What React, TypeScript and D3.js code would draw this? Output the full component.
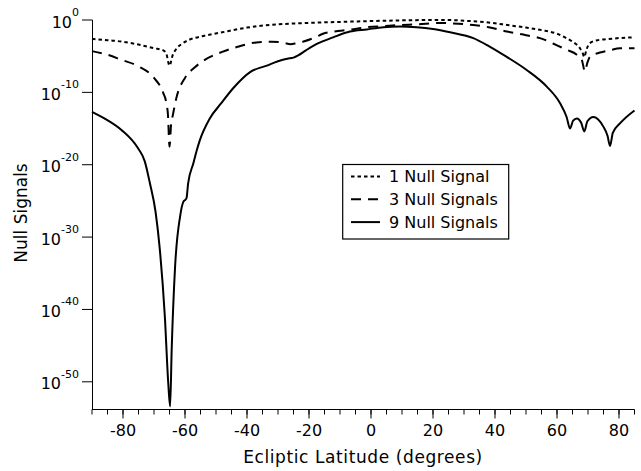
import React from "react";
import * as d3 from "d3";

// Ecliptic latitude (degrees) and log10 of the null signal for each configuration
const lat1 = [-90, -85, -80, -75, -70, -67, -66, -65, -64, -63, -61, -59, -55, -48, -40, -37.5, -30, -20, -7, 0, 10, 20, 25, 30, 40, 44, 50, 55, 60, 63, 65, 67.4, 68.3, 68.8, 69.5, 70.6, 73, 76, 80, 85];
const exp1 = [-2.6, -2.8, -3.0, -3.4, -3.9, -4.2, -4.7, -6.3, -4.9, -4.1, -3.3, -2.8, -2.3, -1.7, -1.05, -0.9, -0.6, -0.4, -0.23, -0.15, -0.05, 0, 0, -0.1, -0.45, -0.7, -1.05, -1.4, -1.9, -2.5, -3.0, -3.9, -4.6, -5.1, -4.1, -3.2, -2.8, -2.65, -2.5, -2.4];

const lat3 = [-90, -85, -80.5, -75, -70, -67, -66, -65.5, -65, -64.5, -63.9, -62.8, -60, -57, -53.6, -48, -43, -37, -32, -28, -26, -24, -22, -18, -15.5, -12, -7, -1.4, 4, 9.4, 15, 22, 25.5, 33, 38, 43.8, 50, 54.5, 60, 63, 66.4, 68, 69, 69.8, 70.6, 73.9, 77, 80.3, 85];
const exp3 = [-4.3, -4.8, -5.5, -6.4, -8.0, -10.1, -11.5, -13.1, -17.5, -14.5, -13.1, -10.8, -8.0, -6.6, -5.5, -4.4, -3.7, -3.1, -3.0, -3.15, -3.35, -3.2, -3.0, -2.4, -1.9, -1.6, -1.35, -1.0, -0.85, -0.7, -0.6, -0.4, -0.45, -0.7, -1.0, -1.6, -2.1, -2.5, -3.5, -4.1, -4.8, -5.5, -7.1, -5.9, -5.1, -4.5, -4.2, -3.9, -3.9];

const lat9 = [-90, -86, -80.5, -75.2, -73, -71.3, -69.5, -68.1, -66.5, -65.4, -64.8, -64.3, -63.2, -61.6, -60.5, -60, -59.5, -59, -57.3, -56.2, -55.2, -52, -48.3, -44.4, -39, -33.6, -30, -27, -25, -23.5, -21, -17.5, -12.2, -6.8, -1.4, 4, 9.4, 14.7, 20, 25.5, 33, 38, 43.8, 50.2, 56.7, 61, 63.1, 64.2, 65.2, 66.4, 67.8, 68.8, 69.8, 71.7, 74.9, 76.3, 77.1, 78, 80.3, 85];
const exp9 = [-12.7, -13.6, -15.2, -17.7, -19.5, -22.6, -26.5, -31.8, -41, -50.2, -53.4, -45.6, -34.1, -27.2, -25.1, -24.9, -24.6, -22.6, -19.8, -18, -16.6, -13.6, -11.5, -9.4, -7.2, -6.3, -5.7, -5.35, -5.2, -4.9, -4.2, -3.3, -2.4, -1.6, -1.3, -1.0, -0.9, -1.0, -1.25, -1.7, -2.5, -3.6, -5.1, -6.9, -9.2, -11.5, -13.4, -15.0, -13.9, -13.6, -14.2, -15.4, -14.0, -13.4, -14.7, -16.0, -17.4, -15.6, -14.3, -12.5];

const seriesNames = ["1 Null Signal", "3 Null Signals", "9 Null Signals"];
const seriesDash = ["3.5,3", "10,7", ""];

const xTicks = [-80, -60, -40, -20, 0, 20, 40, 60, 80];
const xMinorTicks = d3.range(-90, 86, 5);
const yTickExps = [0, -10, -20, -30, -40, -50];

const xLabel = "Ecliptic Latitude (degrees)";
const yLabel = "Null Signals";

const FONT = "'DejaVu Sans', sans-serif";

export default function App() {
  const x = d3.scaleLinear().domain([-90, 85]).range([92, 634.5]);
  const y = d3.scaleLog().domain([Math.pow(10, -53.8), 1]).range([409.3, 20]);

  const series = [
    lat1.map((d, i) => [d, Math.pow(10, exp1[i])] as [number, number]),
    lat3.map((d, i) => [d, Math.pow(10, exp3[i])] as [number, number]),
    lat9.map((d, i) => [d, Math.pow(10, exp9[i])] as [number, number]),
  ];

  const line = d3
    .line<[number, number]>()
    .x((d) => x(d[0]))
    .y((d) => y(d[1]))
    .curve(d3.curveMonotoneX);

  const x0 = 92.5;
  const yBase = 409.5;

  return (
    <svg
      width={641}
      height={471}
      style={{ position: "absolute", left: 0, top: 0, background: "#fff" }}
      fontFamily={FONT}
    >
      <rect width={641} height={471} fill="#fff" />
      {/* curves */}
      {series.map((s, i) => (
        <path
          key={i}
          d={line(s) || ""}
          fill="none"
          stroke="#000"
          strokeWidth={2}
          strokeDasharray={seriesDash[i] || undefined}
          strokeLinejoin="round"
        />
      ))}

      {/* left axis */}
      <line x1={x0} x2={x0} y1={20} y2={yBase} stroke="#000" strokeWidth={1} />
      {yTickExps.map((e) => {
        const ty = y(Math.pow(10, e));
        return (
          <g key={e}>
            <line x1={82} x2={x0} y1={ty} y2={ty} stroke="#000" strokeWidth={1} />
            <text x={79} y={ty + 7.5} textAnchor="end" fontSize={16} fill="#000">
              <tspan>10</tspan>
              <tspan dy={-11.5} fontSize={11}>{String(e)}</tspan>
            </text>
          </g>
        );
      })}

      {/* bottom axis */}
      <line x1={92} x2={634.5} y1={yBase} y2={yBase} stroke="#000" strokeWidth={1} />
      {xMinorTicks.map((t) => (
        <line key={"m" + t} x1={x(t)} x2={x(t)} y1={yBase} y2={yBase + 5} stroke="#000" strokeWidth={1} />
      ))}
      {xTicks.map((t) => (
        <g key={t}>
          <line x1={x(t)} x2={x(t)} y1={yBase} y2={yBase + 9} stroke="#000" strokeWidth={1} />
          <text x={x(t)} y={436} textAnchor="middle" fontSize={16} fill="#000">
            {String(t)}
          </text>
        </g>
      ))}

      {/* axis titles */}
      <text x={363} y={463} textAnchor="middle" fontSize={17} letterSpacing={0.6} fill="#000">
        {xLabel}
      </text>
      <text
        transform="translate(26.5,213) rotate(-90)"
        textAnchor="middle"
        fontSize={17}
        fill="#000"
      >
        {yLabel}
      </text>

      {/* legend */}
      <rect x={342.7} y={164.5} width={166} height={74.5} fill="#fff" stroke="#000" strokeWidth={1.2} />
      {seriesNames.map((name, i) => {
        const by = 182 + i * 22.8;
        return (
          <g key={name}>
            <line
              x1={351}
              x2={380}
              y1={by - 5.5}
              y2={by - 5.5}
              stroke="#000"
              strokeWidth={2}
              strokeDasharray={seriesDash[i] || undefined}
            />
            <text x={389} y={by} fontSize={16} fill="#000">
              {name}
            </text>
          </g>
        );
      })}
    </svg>
  );
}
